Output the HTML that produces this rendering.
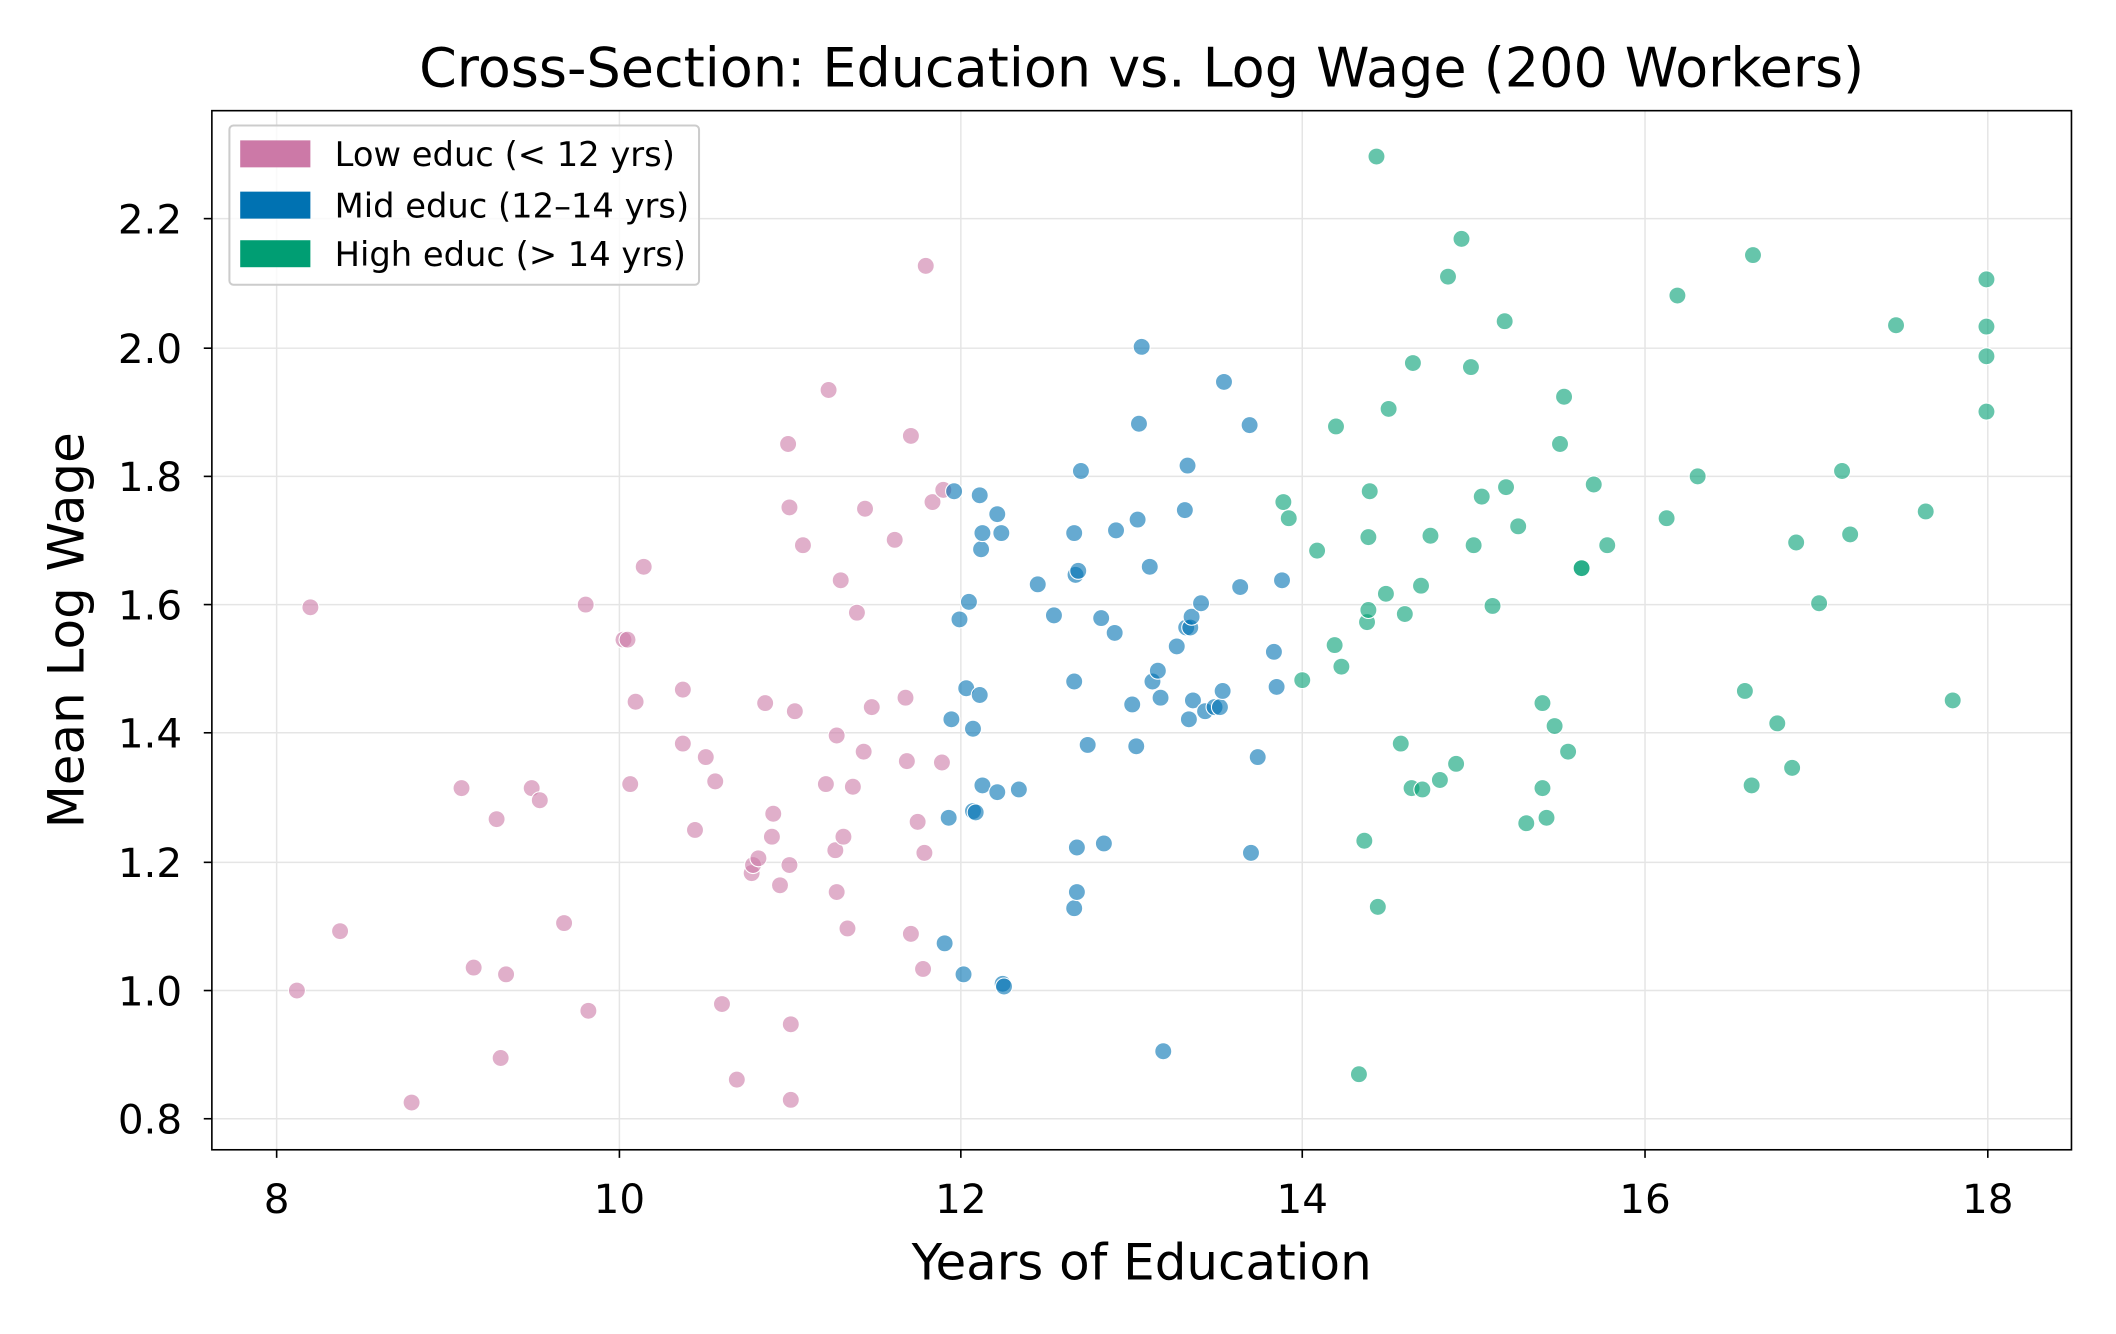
<!DOCTYPE html>
<html><head><meta charset="utf-8"><style>
html,body{margin:0;padding:0;background:#fff}
svg{display:block}
text{font-family:"DejaVu Sans","Liberation Sans",sans-serif;fill:#000}
</style></head><body>
<svg width="2116" height="1334" viewBox="0 0 1568 988.5" xmlns="http://www.w3.org/2000/svg">
<rect width="1568" height="988.5" fill="#fff"/>
<g stroke="#e5e5e5" stroke-width="1.1">
<line x1="205" y1="82" x2="205" y2="852"/><line x1="459" y1="82" x2="459" y2="852"/><line x1="712" y1="82" x2="712" y2="852"/><line x1="965" y1="82" x2="965" y2="852"/><line x1="1219" y1="82" x2="1219" y2="852"/><line x1="1473" y1="82" x2="1473" y2="852"/>
<line x1="157" y1="829" x2="1535" y2="829"/><line x1="157" y1="734" x2="1535" y2="734"/><line x1="157" y1="639" x2="1535" y2="639"/><line x1="157" y1="543" x2="1535" y2="543"/><line x1="157" y1="448" x2="1535" y2="448"/><line x1="157" y1="353" x2="1535" y2="353"/><line x1="157" y1="258" x2="1535" y2="258"/><line x1="157" y1="162" x2="1535" y2="162"/>
</g>
<g id="pts" stroke="#fff" stroke-width="0.8">
<g fill="#cc79a7" fill-opacity="0.6">
<circle cx="230" cy="450" r="6.3"/><circle cx="220" cy="734" r="6.3"/><circle cx="252" cy="690" r="6.3"/><circle cx="305" cy="817" r="6.3"/><circle cx="342" cy="584" r="6.3"/><circle cx="351" cy="717" r="6.3"/><circle cx="368" cy="607" r="6.3"/><circle cx="371" cy="784" r="6.3"/><circle cx="375" cy="722" r="6.3"/><circle cx="394" cy="584" r="6.3"/><circle cx="400" cy="593" r="6.3"/><circle cx="418" cy="684" r="6.3"/><circle cx="434" cy="448" r="6.3"/><circle cx="436" cy="749" r="6.3"/><circle cx="462" cy="474" r="6.3"/><circle cx="465" cy="474" r="6.3"/><circle cx="467" cy="581" r="6.3"/><circle cx="471" cy="520" r="6.3"/><circle cx="477" cy="420" r="6.3"/><circle cx="506" cy="511" r="6.3"/><circle cx="506" cy="551" r="6.3"/><circle cx="515" cy="615" r="6.3"/><circle cx="523" cy="561" r="6.3"/><circle cx="530" cy="579" r="6.3"/><circle cx="535" cy="744" r="6.3"/><circle cx="546" cy="800" r="6.3"/><circle cx="557" cy="647" r="6.3"/><circle cx="558" cy="641" r="6.3"/><circle cx="562" cy="636" r="6.3"/><circle cx="567" cy="521" r="6.3"/><circle cx="572" cy="620" r="6.3"/><circle cx="573" cy="603" r="6.3"/><circle cx="578" cy="656" r="6.3"/><circle cx="584" cy="329" r="6.3"/><circle cx="585" cy="376" r="6.3"/><circle cx="586" cy="759" r="6.3"/><circle cx="585" cy="641" r="6.3"/><circle cx="586" cy="815" r="6.3"/><circle cx="589" cy="527" r="6.3"/><circle cx="595" cy="404" r="6.3"/><circle cx="612" cy="581" r="6.3"/><circle cx="614" cy="289" r="6.3"/><circle cx="619" cy="630" r="6.3"/><circle cx="620" cy="545" r="6.3"/><circle cx="620" cy="661" r="6.3"/><circle cx="623" cy="430" r="6.3"/><circle cx="625" cy="620" r="6.3"/><circle cx="628" cy="688" r="6.3"/><circle cx="632" cy="583" r="6.3"/><circle cx="635" cy="454" r="6.3"/><circle cx="640" cy="557" r="6.3"/><circle cx="641" cy="377" r="6.3"/><circle cx="646" cy="524" r="6.3"/><circle cx="663" cy="400" r="6.3"/><circle cx="671" cy="517" r="6.3"/><circle cx="672" cy="564" r="6.3"/><circle cx="675" cy="323" r="6.3"/><circle cx="675" cy="692" r="6.3"/><circle cx="680" cy="609" r="6.3"/><circle cx="684" cy="718" r="6.3"/><circle cx="685" cy="632" r="6.3"/><circle cx="686" cy="197" r="6.3"/><circle cx="691" cy="372" r="6.3"/><circle cx="698" cy="565" r="6.3"/><circle cx="699" cy="363" r="6.3"/>
</g>
<g fill="#0072b2" fill-opacity="0.6">
<circle cx="707" cy="364" r="6.3"/><circle cx="700" cy="699" r="6.3"/><circle cx="703" cy="606" r="6.3"/><circle cx="705" cy="533" r="6.3"/><circle cx="711" cy="459" r="6.3"/><circle cx="714" cy="722" r="6.3"/><circle cx="716" cy="510" r="6.3"/><circle cx="718" cy="446" r="6.3"/><circle cx="721" cy="540" r="6.3"/><circle cx="721" cy="601" r="6.3"/><circle cx="723" cy="602" r="6.3"/><circle cx="726" cy="367" r="6.3"/><circle cx="726" cy="515" r="6.3"/><circle cx="727" cy="407" r="6.3"/><circle cx="728" cy="395" r="6.3"/><circle cx="728" cy="582" r="6.3"/><circle cx="739" cy="381" r="6.3"/><circle cx="739" cy="587" r="6.3"/><circle cx="742" cy="395" r="6.3"/><circle cx="743" cy="729" r="6.3"/><circle cx="744" cy="731" r="6.3"/><circle cx="755" cy="585" r="6.3"/><circle cx="769" cy="433" r="6.3"/><circle cx="781" cy="456" r="6.3"/><circle cx="796" cy="395" r="6.3"/><circle cx="796" cy="505" r="6.3"/><circle cx="796" cy="673" r="6.3"/><circle cx="797" cy="426" r="6.3"/><circle cx="798" cy="628" r="6.3"/><circle cx="798" cy="661" r="6.3"/><circle cx="799" cy="423" r="6.3"/><circle cx="801" cy="349" r="6.3"/><circle cx="806" cy="552" r="6.3"/><circle cx="816" cy="458" r="6.3"/><circle cx="818" cy="625" r="6.3"/><circle cx="826" cy="469" r="6.3"/><circle cx="827" cy="393" r="6.3"/><circle cx="839" cy="522" r="6.3"/><circle cx="842" cy="553" r="6.3"/><circle cx="843" cy="385" r="6.3"/><circle cx="844" cy="314" r="6.3"/><circle cx="846" cy="257" r="6.3"/><circle cx="852" cy="420" r="6.3"/><circle cx="854" cy="505" r="6.3"/><circle cx="858" cy="497" r="6.3"/><circle cx="860" cy="517" r="6.3"/><circle cx="862" cy="779" r="6.3"/><circle cx="872" cy="479" r="6.3"/><circle cx="878" cy="378" r="6.3"/><circle cx="879" cy="465" r="6.3"/><circle cx="880" cy="345" r="6.3"/><circle cx="881" cy="533" r="6.3"/><circle cx="882" cy="465" r="6.3"/><circle cx="883" cy="457" r="6.3"/><circle cx="884" cy="519" r="6.3"/><circle cx="890" cy="447" r="6.3"/><circle cx="893" cy="527" r="6.3"/><circle cx="900" cy="524" r="6.3"/><circle cx="904" cy="524" r="6.3"/><circle cx="906" cy="512" r="6.3"/><circle cx="907" cy="283" r="6.3"/><circle cx="919" cy="435" r="6.3"/><circle cx="926" cy="315" r="6.3"/><circle cx="927" cy="632" r="6.3"/><circle cx="932" cy="561" r="6.3"/><circle cx="944" cy="483" r="6.3"/><circle cx="946" cy="509" r="6.3"/><circle cx="950" cy="430" r="6.3"/>
</g>
<g fill="#009e73" fill-opacity="0.6">
<circle cx="951" cy="372" r="6.3"/><circle cx="955" cy="384" r="6.3"/><circle cx="965" cy="504" r="6.3"/><circle cx="976" cy="408" r="6.3"/><circle cx="990" cy="316" r="6.3"/><circle cx="989" cy="478" r="6.3"/><circle cx="994" cy="494" r="6.3"/><circle cx="1007" cy="796" r="6.3"/><circle cx="1011" cy="623" r="6.3"/><circle cx="1013" cy="461" r="6.3"/><circle cx="1014" cy="452" r="6.3"/><circle cx="1014" cy="398" r="6.3"/><circle cx="1015" cy="364" r="6.3"/><circle cx="1020" cy="116" r="6.3"/><circle cx="1021" cy="672" r="6.3"/><circle cx="1027" cy="440" r="6.3"/><circle cx="1029" cy="303" r="6.3"/><circle cx="1038" cy="551" r="6.3"/><circle cx="1041" cy="455" r="6.3"/><circle cx="1046" cy="584" r="6.3"/><circle cx="1047" cy="269" r="6.3"/><circle cx="1053" cy="434" r="6.3"/><circle cx="1054" cy="585" r="6.3"/><circle cx="1060" cy="397" r="6.3"/><circle cx="1067" cy="578" r="6.3"/><circle cx="1073" cy="205" r="6.3"/><circle cx="1079" cy="566" r="6.3"/><circle cx="1083" cy="177" r="6.3"/><circle cx="1090" cy="272" r="6.3"/><circle cx="1092" cy="404" r="6.3"/><circle cx="1098" cy="368" r="6.3"/><circle cx="1106" cy="449" r="6.3"/><circle cx="1115" cy="238" r="6.3"/><circle cx="1116" cy="361" r="6.3"/><circle cx="1125" cy="390" r="6.3"/><circle cx="1131" cy="610" r="6.3"/><circle cx="1143" cy="521" r="6.3"/><circle cx="1143" cy="584" r="6.3"/><circle cx="1146" cy="606" r="6.3"/><circle cx="1152" cy="538" r="6.3"/><circle cx="1156" cy="329" r="6.3"/><circle cx="1159" cy="294" r="6.3"/><circle cx="1162" cy="557" r="6.3"/><circle cx="1172" cy="421" r="6.3"/><circle cx="1172" cy="421" r="6.3"/><circle cx="1181" cy="359" r="6.3"/><circle cx="1191" cy="404" r="6.3"/><circle cx="1235" cy="384" r="6.3"/><circle cx="1243" cy="219" r="6.3"/><circle cx="1258" cy="353" r="6.3"/><circle cx="1293" cy="512" r="6.3"/><circle cx="1298" cy="582" r="6.3"/><circle cx="1299" cy="189" r="6.3"/><circle cx="1317" cy="536" r="6.3"/><circle cx="1328" cy="569" r="6.3"/><circle cx="1331" cy="402" r="6.3"/><circle cx="1348" cy="447" r="6.3"/><circle cx="1365" cy="349" r="6.3"/><circle cx="1371" cy="396" r="6.3"/><circle cx="1405" cy="241" r="6.3"/><circle cx="1427" cy="379" r="6.3"/><circle cx="1447" cy="519" r="6.3"/><circle cx="1472" cy="207" r="6.3"/><circle cx="1472" cy="242" r="6.3"/><circle cx="1472" cy="264" r="6.3"/><circle cx="1472" cy="305" r="6.3"/>
</g>
</g>
<rect x="157" y="82" width="1378" height="770" fill="none" stroke="#000" stroke-width="1.2"/>
<g stroke="#000" stroke-width="1.2">
<line x1="205" y1="852" x2="205" y2="858"/><line x1="459" y1="852" x2="459" y2="858"/><line x1="712" y1="852" x2="712" y2="858"/><line x1="965" y1="852" x2="965" y2="858"/><line x1="1219" y1="852" x2="1219" y2="858"/><line x1="1473" y1="852" x2="1473" y2="858"/>
<line x1="151" y1="829" x2="157" y2="829"/><line x1="151" y1="734" x2="157" y2="734"/><line x1="151" y1="639" x2="157" y2="639"/><line x1="151" y1="543" x2="157" y2="543"/><line x1="151" y1="448" x2="157" y2="448"/><line x1="151" y1="353" x2="157" y2="353"/><line x1="151" y1="258" x2="157" y2="258"/><line x1="151" y1="162" x2="157" y2="162"/>
</g>
<g font-size="30" text-anchor="middle">
<text x="205" y="899">8</text><text x="459" y="899">10</text><text x="712" y="899">12</text><text x="965" y="899">14</text><text x="1219" y="899">16</text><text x="1473" y="899">18</text>
</g>
<g font-size="30" text-anchor="end">
<text x="135" y="840">0.8</text><text x="135" y="745">1.0</text><text x="135" y="650">1.2</text><text x="135" y="554">1.4</text><text x="135" y="459">1.6</text><text x="135" y="364">1.8</text><text x="135" y="269">2.0</text><text x="135" y="173">2.2</text>
</g>
<text x="846" y="948" font-size="37" text-anchor="middle">Years of Education</text>
<text x="0" y="0" font-size="37" text-anchor="middle" transform="translate(62,467) rotate(-90)">Mean Log Wage</text>
<text x="846" y="64" font-size="40" text-anchor="middle">Cross-Section: Education vs. Log Wage (200 Workers)</text>
<rect x="170" y="93" width="348" height="118" rx="3" fill="#fff" fill-opacity="0.8" stroke="#cccccc" stroke-width="1.5"/>
<rect x="178" y="104" width="52" height="20" fill="#cc79a7"/>
<rect x="178" y="142" width="52" height="20" fill="#0072b2"/>
<rect x="178" y="178" width="52" height="20" fill="#009e73"/>
<g font-size="25">
<text x="248" y="123">Low educ (&lt; 12 yrs)</text>
<text x="248" y="161">Mid educ (12–14 yrs)</text>
<text x="248" y="197">High educ (&gt; 14 yrs)</text>
</g>
</svg>
</body></html>
